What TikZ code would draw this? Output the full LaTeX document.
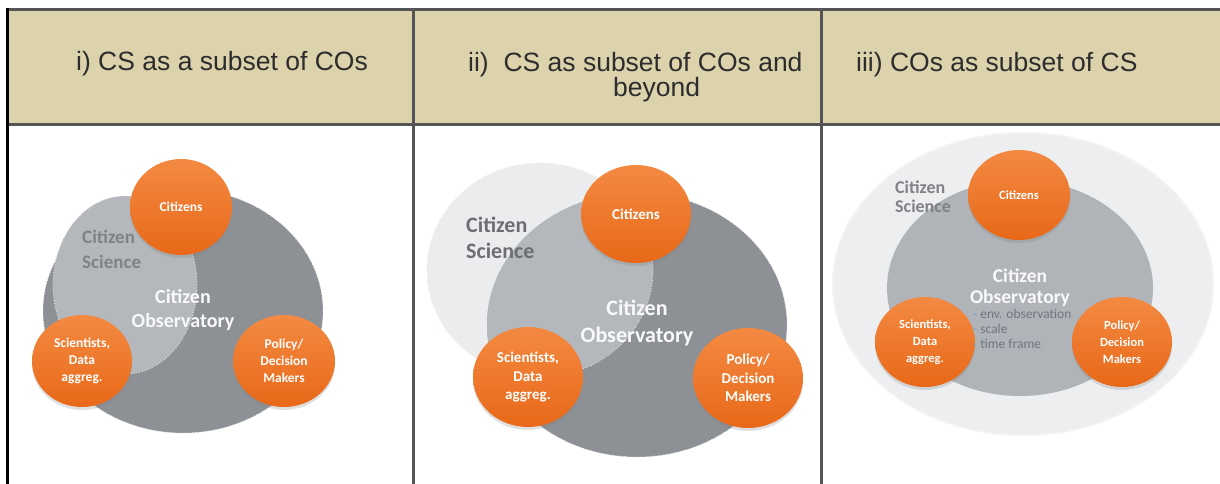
\documentclass[tikz,border=0pt]{standalone}
\usepackage{fontspec}
\setmainfont{Liberation Sans}
\newfontfamily\calfont{Carlito}
\usetikzlibrary{shapes.geometric,shadows}

\definecolor{hdr}{RGB}{220,211,173}
\definecolor{rulec}{RGB}{85,85,85}
\definecolor{hdrtext}{RGB}{45,45,45}
\definecolor{codark}{RGB}{141,144,149}
\definecolor{csmid}{RGB}{180,183,187}
\definecolor{cslight}{RGB}{235,236,237}
\definecolor{coinner}{RGB}{176,179,184}
\definecolor{outerlight}{RGB}{237,238,239}
\definecolor{orTop}{RGB}{243,138,66}
\definecolor{orBot}{RGB}{232,104,24}
\definecolor{cstext}{RGB}{128,130,134}
\definecolor{bullettext}{RGB}{112,118,128}
\definecolor{bulletdash}{RGB}{110,160,210}

\begin{document}
\begin{tikzpicture}[x=1pt,y=-1pt,
  hdrlabel/.style={anchor=base west, inner sep=0pt, text=hdrtext, font=\fontsize{26.5}{30}\selectfont},
  blob/.style={ellipse, inner sep=0pt, draw=white!85!gray, dotted, line width=0.8pt},
  actor/.style={ellipse, inner sep=0pt, top color=orTop, bottom color=orBot, text=white, align=center,
     drop shadow={opacity=0.25, shadow xshift=0pt, shadow yshift=-3pt}},
  actA/.style={actor, font=\calfont\bfseries\fontsize{13.5}{17}\selectfont},
  actB/.style={actor, font=\calfont\bfseries\fontsize{15}{18.5}\selectfont},
  actC/.style={actor, font=\calfont\bfseries\fontsize{12.5}{17}\selectfont},
  cslabel/.style={anchor=base west, inner sep=0pt, align=left, text=cstext},
  colabel/.style={anchor=base, inner sep=0pt, align=center, text=white!95!gray},
]
\useasboundingbox (0,0) rectangle (1220,484);

% ---------- table ----------
\fill[hdr] (7,10) rectangle (1220,125);
\draw[rulec, line width=3pt] (6,10) -- (1220,10);
\draw[rulec, line width=3pt] (7,125) -- (1220,125);
\draw[rulec, line width=3pt] (413.3,10) -- (413.3,484);
\draw[rulec, line width=3pt] (821.5,10) -- (821.5,484);
\draw[black, line width=3pt] (7,8.5) -- (7,484);

\node[hdrlabel] (h1) at (76,70.5) {i) CS as a subset of COs};
\node[hdrlabel] (h2a) at (468,72) {ii)\ \ CS as subset of COs and};
\node[hdrlabel] (h2b) at (613,97) {beyond};
\node[hdrlabel] (h3) at (856,72) {iii) COs as subset of CS};

% ---------- panel i ----------
\node[blob, fill=codark, minimum width=280pt, minimum height=244pt] (co1) at (183,311) {};
\node[blob, fill=csmid, minimum width=144pt, minimum height=178pt] (cs1) at (125,285) {};
\node[cslabel, font=\calfont\bfseries\fontsize{19}{25}\selectfont] (cs1t) at (82,268) {Citizen\\Science};
\node[colabel, font=\calfont\bfseries\fontsize{20}{24}\selectfont] (co1t) at (183,327) {Citizen\\Observatory};
\node[actA, minimum width=102pt, minimum height=96pt] (cit1) at (181,207) {Citizens};
\node[actA, minimum width=100pt, minimum height=92pt] (sci1) at (82,361) {Scientists,\\Data\\aggreg.};
\node[actA, minimum width=102pt, minimum height=92pt] (pol1) at (284,361) {Policy/\\Decision\\Makers};

% ---------- panel ii ----------
\node[blob, fill=cslight, minimum width=226pt, minimum height=214pt] (cs2) at (540,270) {};
\node[blob, fill=codark, minimum width=300pt, minimum height=264pt] (co2) at (637,325) {};
\begin{scope}
  \clip (637,325) ellipse [x radius=150pt, y radius=132pt];
  \fill[csmid] (540,270) ellipse [x radius=113pt, y radius=107pt];
\end{scope}
\draw[white!85!gray, dotted, line width=0.8pt] (540,270) ellipse [x radius=113pt, y radius=107pt];
\node[cslabel, text=cstext!85!black, font=\calfont\bfseries\fontsize{22}{26}\selectfont] (cs2t) at (466,258) {Citizen\\Science};
\node[colabel, font=\calfont\bfseries\fontsize{22}{27}\selectfont] (co2t) at (637,342) {Citizen\\Observatory};
\node[actB, minimum width=110pt, minimum height=98pt] (cit2) at (636,214) {Citizens};
\node[actB, minimum width=110pt, minimum height=100pt] (sci2) at (528,377) {Scientists,\\Data\\aggreg.};
\node[actB, minimum width=110pt, minimum height=100pt] (pol2) at (748,378) {Policy/\\Decision\\Makers};

% ---------- panel iii ----------
\node[ellipse, inner sep=0pt, fill=outerlight, draw=white!90!gray, line width=2pt, minimum width=380pt, minimum height=302pt] (cs3) at (1023,284) {};
\node[ellipse, inner sep=0pt, fill=coinner, minimum width=266pt, minimum height=216pt] (co3) at (1020,288) {};
\node[cslabel, font=\calfont\bfseries\fontsize{18}{18.5}\selectfont] (cs3t) at (895,212) {Citizen\\Science};
\node[colabel, font=\calfont\bfseries\fontsize{19.5}{21}\selectfont] (co3t) at (1020,303) {Citizen\\Observatory};
\node[actC, minimum width=102pt, minimum height=90pt] (cit3) at (1019,195) {Citizens};
\node[actC, minimum width=100pt, minimum height=90pt] (sci3) at (925,342) {Scientists,\\Data\\aggreg.};
\node[actC, minimum width=100pt, minimum height=90pt] (pol3) at (1122,342) {Policy/\\Decision\\Makers};
\node[anchor=base west, inner sep=0pt, align=left, text=bullettext, font=\calfont\fontsize{13.5}{15}\selectfont] (bul3) at (973,348)
  {\textcolor{bulletdash}{-} env. observation\\\textcolor{bulletdash}{-} scale\\\textcolor{bulletdash}{-} time frame};
\end{tikzpicture}
\end{document}
